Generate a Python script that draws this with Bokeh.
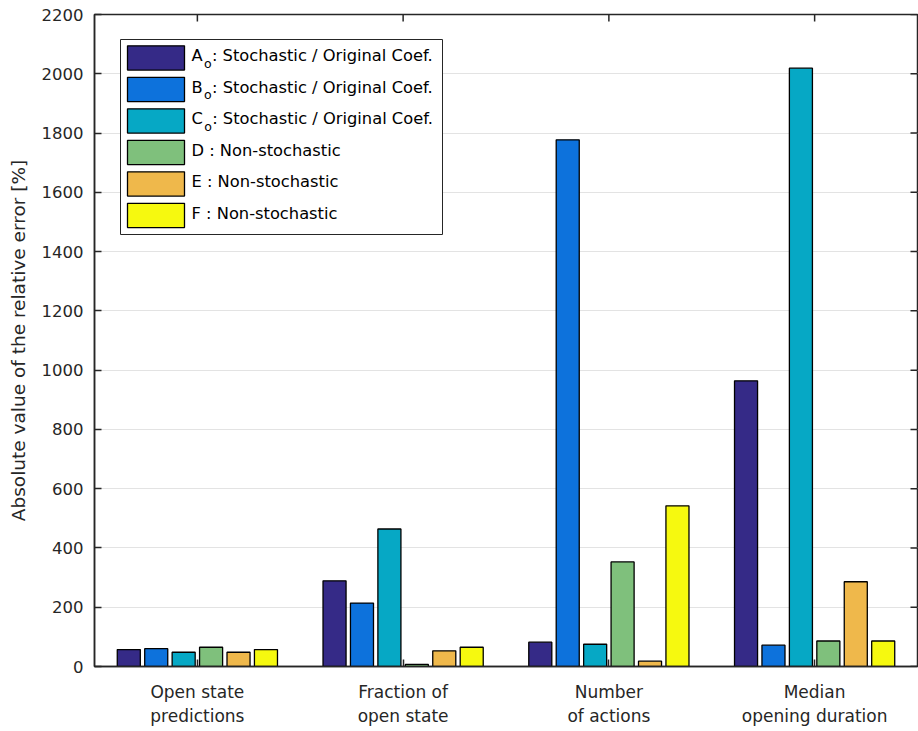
from bokeh.plotting import figure
from bokeh.models import FixedTicker, Range1d
from bokeh.core.properties import value
from bokeh.embed import file_html
from bokeh.resources import INLINE

# ---- data -------------------------------------------------------------
categories = ["Open state\npredictions", "Fraction of\nopen state",
              "Number\nof actions", "Median\nopening duration"]

series_names = ["A", "B", "C", "D", "E", "F"]
series_desc = ["Stochastic / Original Coef.", "Stochastic / Original Coef.",
               "Stochastic / Original Coef.", "Non-stochastic",
               "Non-stochastic", "Non-stochastic"]
subscripted = [True, True, True, False, False, False]

A_vals = [57, 289, 82, 964]
B_vals = [60, 214, 1777, 72]
C_vals = [48, 464, 75, 2019]
D_vals = [65, 7, 353, 86]
E_vals = [48, 53, 18, 286]
F_vals = [57, 65, 542, 86]

colors = ["#352A87", "#0D72DC", "#06A8C5", "#7FC07C", "#EFB84B", "#F6F90F"]
y_ticks = list(range(0, 2201, 200))

# ---- figure -----------------------------------------------------------
FONT = "DejaVu Sans"
TXT = "#262626"
W, H = 918, 731
BL, BR, BT, BB = 94, 1, 14, 65
X0, X1, Y0, Y1 = 0.5, 4.5, 0, 2200

p = figure(width=W, height=H, output_backend="svg", toolbar_location=None,
           x_range=Range1d(X0, X1), y_range=Range1d(Y0, Y1),
           min_border_left=BL, min_border_right=BR, min_border_top=BT,
           min_border_bottom=BB)
p.background_fill_color = "white"
p.border_fill_color = "white"
p.outline_line_color = TXT
p.outline_line_width = 1.5

series = [A_vals, B_vals, C_vals, D_vals, E_vals, F_vals]
n = len(series)
step = 0.8 / n
bar_w = 0.112
group_x = [i + 1 for i in range(len(categories))]

for j, vals in enumerate(series):
    xs = [g + (j - (n - 1) / 2) * step for g in group_x]
    p.vbar(x=xs, top=vals, bottom=0, width=bar_w, fill_color=colors[j],
           line_color="black", line_width=1.3)

# ---- axes -------------------------------------------------------------
def style_axis(ax):
    ax.axis_line_color = TXT
    ax.axis_line_width = 1.5
    ax.major_tick_line_color = TXT
    ax.major_tick_line_width = 1.5
    ax.major_tick_in = 7
    ax.major_tick_out = 0
    ax.minor_tick_line_color = None
    ax.major_label_text_font = FONT
    ax.major_label_text_color = TXT

xax = p.xaxis[0]
xax.ticker = FixedTicker(ticks=group_x)
xax.major_label_overrides = {g: c for g, c in zip(group_x, categories)}
style_axis(xax)
xax.major_label_text_font_size = "17px"
xax.major_label_standoff = 15

yax = p.yaxis[0]
yax.ticker = FixedTicker(ticks=y_ticks)
style_axis(yax)
yax.major_label_text_font_size = "16.5px"
yax.major_label_standoff = 11
yax.axis_label = "Absolute value of the relative error [%]"
yax.axis_label_text_font = FONT
yax.axis_label_text_font_size = "18.5px"
yax.axis_label_text_font_style = "normal"
yax.axis_label_text_color = TXT
yax.axis_label_standoff = 10

# inward ticks on the top and right edges of the box (7 px long)
frame_w = W - BL - BR
frame_h = H - BT - BB
px_x = (X1 - X0) / frame_w      # data units per screen pixel
px_y = (Y1 - Y0) / frame_h
p.segment(x0=group_x, y0=[Y1] * len(group_x), x1=group_x,
          y1=[Y1 - 7 * px_y] * len(group_x), line_color=TXT, line_width=1.5)
p.segment(x0=[X1] * len(y_ticks), y0=y_ticks, x1=[X1 - 7 * px_x] * len(y_ticks),
          y1=y_ticks, line_color=TXT, line_width=1.5)

p.xgrid.grid_line_color = None
p.ygrid.ticker = FixedTicker(ticks=y_ticks)
p.ygrid.grid_line_color = "#E3E3E3"
p.ygrid.grid_line_width = 1


# ---- legend (laid out in pixels from the frame's lower-left corner) ----
def dx(sx):
    return X0 + sx * px_x


def dy(sy):
    return Y0 + sy * px_y


box_l, box_r, box_b, box_t = 26, 348, 432, 627
pad = 7
sw_w, sw_h = 57, 24.3
row = 31.5
text_x = box_l + pad + sw_w + 7

p.quad(left=[dx(box_l)], right=[dx(box_r)], bottom=[dy(box_b)], top=[dy(box_t)],
       fill_color="white", line_color=TXT, line_width=1)

sw_top = [box_t - pad + 0.7 - j * row for j in range(n)]
p.quad(left=[dx(box_l + pad)] * n, right=[dx(box_l + pad + sw_w)] * n,
       top=[dy(t) for t in sw_top], bottom=[dy(t - sw_h) for t in sw_top],
       fill_color=colors, line_color="black", line_width=1.3)

baselines = [t - 9.8 for t in sw_top]
letter_w = {"A": 10.9, "B": 11.0, "C": 11.2}

main_x, main_y, main_t = [], [], []
sub_x, sub_y = [], []
for j, name in enumerate(series_names):
    if subscripted[j]:
        main_x += [dx(text_x), dx(text_x + letter_w[name] + 9.5)]
        main_y += [dy(baselines[j])] * 2
        main_t += [name, ": " + series_desc[j]]
        sub_x.append(dx(text_x + letter_w[name] + 1.5))
        sub_y.append(dy(baselines[j] - 7.6))
    else:
        main_x.append(dx(text_x))
        main_y.append(dy(baselines[j]))
        main_t.append(name + " : " + series_desc[j])

p.text(x=main_x, y=main_y, text=main_t, text_font=value(FONT),
       text_font_size="16.3px", text_color="black", text_baseline="alphabetic",
       text_align="left")
p.text(x=sub_x, y=sub_y, text=["o"] * len(sub_x), text_font=value(FONT),
       text_font_size="12.5px", text_color="black", text_baseline="alphabetic",
       text_align="left")

open("out.html", "w").write(file_html(p, INLINE))
